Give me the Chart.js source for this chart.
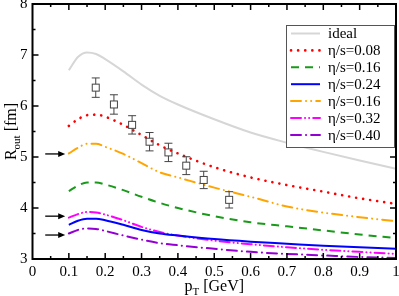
<!DOCTYPE html>
<html>
<head>
<meta charset="utf-8">
<script src="https://cdn.jsdelivr.net/npm/chart.js@4"></script>
<style>
  html, body { margin: 0; padding: 0; background: #fff; }
  #wrap { width: 399px; height: 296px; }
</style>
</head>
<body>
<div id="wrap"><canvas id="myChart" width="399" height="296"></canvas></div>
<script>
// pT grid [GeV] shared by the hydro curves
const pT = [0.1, 0.125, 0.15, 0.175, 0.2, 0.25, 0.3, 0.35, 0.4, 0.5, 0.6, 0.7, 0.8, 0.9, 1.0];

// R_out [fm] for each curve
const ideal   = [6.70, 6.96, 7.05, 7.02, 6.92, 6.68, 6.42, 6.20, 6.03, 5.74, 5.48, 5.28, 5.10, 4.93, 4.77];
const eta008  = [5.61, 5.74, 5.82, 5.83, 5.79, 5.63, 5.43, 5.23, 5.07, 4.80, 4.60, 4.45, 4.32, 4.19, 4.08];
const eta016  = [4.33, 4.44, 4.50, 4.50, 4.46, 4.35, 4.22, 4.10, 4.00, 3.84, 3.72, 3.64, 3.56, 3.48, 3.41];
const eta024  = [3.67, 3.75, 3.79, 3.79, 3.76, 3.67, 3.57, 3.50, 3.46, 3.39, 3.34, 3.30, 3.26, 3.23, 3.20];
const eta016b = [5.07, 5.18, 5.26, 5.26, 5.20, 5.06, 4.88, 4.70, 4.60, 4.40, 4.22, 4.03, 3.91, 3.82, 3.74];
const eta032  = [3.81, 3.88, 3.92, 3.91, 3.87, 3.76, 3.63, 3.53, 3.46, 3.36, 3.29, 3.23, 3.18, 3.14, 3.10];
const eta040  = [3.50, 3.57, 3.60, 3.59, 3.55, 3.46, 3.38, 3.31, 3.27, 3.20, 3.14, 3.10, 3.07, 3.04, 3.02];

// measured points with errors
const expX   = [0.174, 0.224, 0.274, 0.322, 0.374, 0.423, 0.471, 0.541];
const expY   = [6.36, 6.03, 5.63, 5.30, 5.09, 4.83, 4.55, 4.16];
const expErr = [0.19, 0.19, 0.18, 0.18, 0.18, 0.175, 0.17, 0.16];

// arrows on the left edge
const arrowY = [5.06, 3.84, 3.47];

const labels = ['ideal', 'η/s=0.08', 'η/s=0.16', 'η/s=0.24', 'η/s=0.16', 'η/s=0.32', 'η/s=0.40'];
const series = [ideal, eta008, eta016, eta024, eta016b, eta032, eta040];
const colors = ['#d6d6d6', '#ff0000', '#1a9a1a', '#0000ff', '#ffa500', '#ff00ff', '#9400d3'];
const dashes = [[], [0.1, 7], [8, 6], [], [10, 5, 0.1, 5, 0.1, 5], [10, 4, 0.1, 4, 0.1, 4], [10, 5, 0.1, 5]];
const widths = [2, 2.6, 2, 2, 2, 2, 2];

const FONT = '"Liberation Serif", "DejaVu Serif", serif';

const datasets = series.map((s, i) => ({
    label: labels[i],
    data: s.map((v, k) => ({x: pT[k], y: v})),
    borderColor: colors[i],
    borderWidth: widths[i],
    borderDash: dashes[i],
    borderCapStyle: i === 1 || i === 4 || i === 5 || i === 6 ? 'round' : 'butt',
    pointRadius: 0,
    fill: false,
    cubicInterpolationMode: 'monotone'
}));

const extras = {
    id: 'extras',
    afterDatasetsDraw(chart) {
        const ctx = chart.ctx;
        const xs = chart.scales.x, ys = chart.scales.y;
        const a = chart.chartArea;
        ctx.save();

        // data points with error bars
        ctx.strokeStyle = '#444';
        ctx.lineWidth = 1;
        for (let i = 0; i < expX.length; i++) {
            const px = xs.getPixelForValue(expX[i]);
            const py = ys.getPixelForValue(expY[i]);
            const top = ys.getPixelForValue(expY[i] + expErr[i]);
            const bot = ys.getPixelForValue(expY[i] - expErr[i]);
            ctx.beginPath();
            ctx.moveTo(px, top); ctx.lineTo(px, py - 3.5);
            ctx.moveTo(px, py + 3.5); ctx.lineTo(px, bot);
            ctx.moveTo(px - 4, top); ctx.lineTo(px + 4, top);
            ctx.moveTo(px - 4, bot); ctx.lineTo(px + 4, bot);
            ctx.stroke();
            ctx.strokeRect(px - 3.5, py - 3.5, 7, 7);
        }

        // arrows
        ctx.strokeStyle = '#000';
        ctx.fillStyle = '#000';
        ctx.lineWidth = 1.3;
        for (const v of arrowY) {
            const py = ys.getPixelForValue(v);
            const x0 = xs.getPixelForValue(0.035), x1 = xs.getPixelForValue(0.09);
            ctx.beginPath();
            ctx.moveTo(x0, py); ctx.lineTo(x1 - 3, py);
            ctx.stroke();
            ctx.beginPath();
            ctx.moveTo(x1, py); ctx.lineTo(x1 - 7, py - 3); ctx.lineTo(x1 - 7, py + 3);
            ctx.closePath();
            ctx.fill();
        }

        // frame and inward ticks
        ctx.lineWidth = 2;
        ctx.strokeRect(a.left, a.top, a.right - a.left, a.bottom - a.top);
        ctx.lineWidth = 1.5;
        ctx.beginPath();
        for (let k = 1; k < 20; k++) {
            const px = xs.getPixelForValue(k * 0.05);
            const len = k % 2 === 0 ? 6 : 3;
            ctx.moveTo(px, a.bottom); ctx.lineTo(px, a.bottom - len);
            ctx.moveTo(px, a.top); ctx.lineTo(px, a.top + len);
        }
        for (let k = 1; k < 10; k++) {
            const py = ys.getPixelForValue(3 + k * 0.5);
            const len = k % 2 === 0 ? 6 : 3;
            ctx.moveTo(a.left, py); ctx.lineTo(a.left + len, py);
            ctx.moveTo(a.right, py); ctx.lineTo(a.right - len, py);
        }
        ctx.stroke();

        // legend
        const lx = 286, ly = 25, lw = 108, lh = 122;
        ctx.fillStyle = '#fff';
        ctx.fillRect(lx, ly, lw, lh);
        ctx.strokeStyle = '#555';
        ctx.lineWidth = 1;
        ctx.strokeRect(lx + 0.5, ly + 0.5, lw, lh);
        ctx.font = '15px ' + FONT;
        ctx.textBaseline = 'middle';
        for (let i = 0; i < labels.length; i++) {
            const ry = 33.5 + i * 16.9;
            ctx.strokeStyle = colors[i];
            ctx.lineWidth = widths[i];
            ctx.setLineDash(dashes[i]);
            ctx.lineCap = datasets[i].borderCapStyle;
            ctx.beginPath();
            ctx.moveTo(291, ry); ctx.lineTo(320, ry);
            ctx.stroke();
            ctx.setLineDash([]);
            ctx.lineCap = 'butt';
            ctx.fillStyle = '#000';
            ctx.fillText(labels[i], 328, ry + 1);
        }

        // axis titles with subscripts
        ctx.fillStyle = '#000';
        ctx.textBaseline = 'alphabetic';
        const drawTitle = (parts, cx, cy) => {
            let w = 0;
            for (const p of parts) { ctx.font = p[1] + 'px ' + FONT; w += ctx.measureText(p[0]).width; }
            let x = cx - w / 2;
            for (const p of parts) {
                ctx.font = p[1] + 'px ' + FONT;
                ctx.fillText(p[0], x, cy + p[2]);
                x += ctx.measureText(p[0]).width;
            }
        };
        drawTitle([['p', 16, 0], ['T', 11, 4], [' [GeV]', 16, 0]], (a.left + a.right) / 2, 291);
        ctx.save();
        ctx.translate(16, (a.top + a.bottom) / 2);
        ctx.rotate(-Math.PI / 2);
        drawTitle([['R', 16, 0], ['out', 11, 4], [' [fm]', 16, 0]], 0, 0);
        ctx.restore();

        ctx.restore();
    }
};

const ctx = document.getElementById('myChart').getContext('2d');
const myChart = new Chart(ctx, {
    type: 'line',
    data: { datasets: datasets },
    options: {
        responsive: false,
        animation: false,
        layout: { padding: { top: 4, right: 3, left: 0, bottom: 0 } },
        plugins: { legend: { display: false }, tooltip: { enabled: false } },
        scales: {
            x: {
                type: 'linear', min: 0, max: 1,
                grid: { display: false, drawTicks: false },
                border: { display: false },
                ticks: {
                    stepSize: 0.1, padding: 4, color: '#000', maxRotation: 0,
                    font: { family: FONT, size: 15 },
                    callback: v => +v.toFixed(1)
                },
                afterFit: s => { s.height = 37; s.paddingLeft = 0; s.paddingRight = 0; }
            },
            y: {
                min: 3, max: 8,
                grid: { display: false, drawTicks: false },
                border: { display: false },
                ticks: {
                    stepSize: 1, padding: 5, color: '#000',
                    font: { family: FONT, size: 15 }
                },
                afterFit: s => { s.width = 32.5; s.paddingTop = 0; s.paddingBottom = 0; }
            }
        }
    },
    plugins: [extras]
});
</script>
</body>
</html>
